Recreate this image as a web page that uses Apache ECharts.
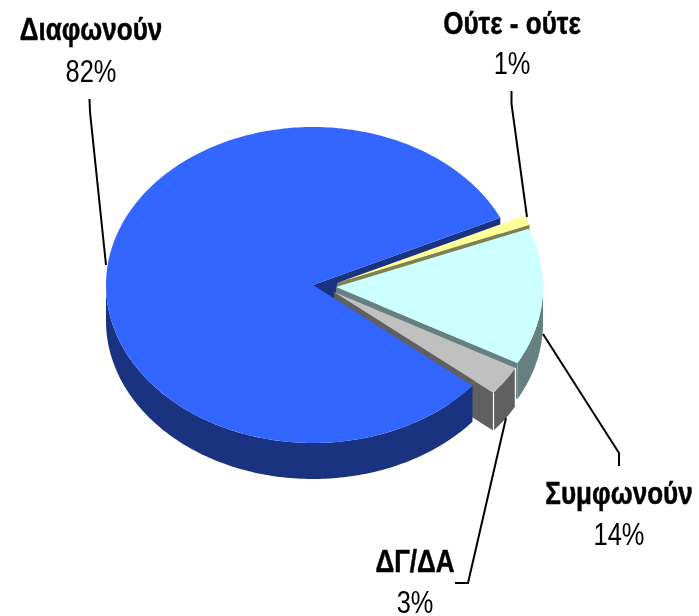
<!DOCTYPE html>
<html><head><meta charset="utf-8">
<style>html,body{margin:0;padding:0;background:#fff}#c{width:699px;height:616px}</style>
<script src="https://cdn.jsdelivr.net/npm/echarts@6/dist/echarts.min.js"></script>
</head><body><div id="c"></div>
<script>
// ---- data ----
const categories = ['Διαφωνούν', 'Ούτε - ούτε', 'Συμφωνούν', 'ΔΓ/ΔΑ'];
const values = [82, 1, 14, 3];
// ---- styles ----
const topColors = ['#3366ff', '#ffff99', '#ccffff', '#c0c0c0'];
const sideColors = ['#1a3380', '#808050', '#668080', '#606060'];
// ---- layout ----
const RX = 207, RY = 158, START_DEG = 39.6;
const depths = [36, 36, 36, 38];
const centres = [[313, 285], [337, 283], [336, 287], [334, 292]];
const labelPos = [[91, 31, 73], [512, 25, 65], [619, 495, 536], [415, 563, 604]];
const leaders = [
  [[89.5, 99], [90, 112], [106, 265]],
  [[511.5, 91], [511.5, 104], [527, 217]],
  [[619, 466], [619, 453], [543, 334]],
  [[455, 583], [468, 583], [506, 418]]
];
const FONT = '"Liberation Sans",sans-serif';

const total = values.reduce((a, b) => a + b, 0);
const spans = [];
{ let a = START_DEG;
  values.forEach(v => { const b = a + v / total * 360; spans.push([a, b]); a = b; }); }

function pt(i, deg, dz) {
  const r = deg * Math.PI / 180, c = centres[i];
  return [c[0] + RX * Math.cos(r), c[1] + RY * Math.sin(r) + (dz || 0)];
}
function arc(i, a, b, dz) {
  const out = [], n = Math.max(2, Math.ceil(Math.abs(b - a)));
  for (let k = 0; k <= n; k++) out.push(pt(i, a + (b - a) * k / n, dz));
  return out;
}
function facePolygon(i) {           // radial cut face at the slice's closing edge
  const a = spans[i][1], c = centres[i], d = depths[i];
  return [c, pt(i, a), pt(i, a, d), [c[0], c[1] + d]];
}
function rimPolygon(i) {            // visible (front) outer wall
  let a = spans[i][0], b = spans[i][1];
  if (a > 180) { a -= 360; b -= 360; }
  if (a > 180) { a -= 360; b -= 360; }
  const a2 = Math.max(a, 0), b2 = Math.min(b, 180);
  if (b2 <= a2) return null;
  return arc(i, a2, b2, 0).concat(arc(i, b2, a2, depths[i]));
}
function topPolygon(i) {
  return [centres[i]].concat(arc(i, spans[i][0], spans[i][1], 0));
}

// painter's order: [slice, part]  part: 0 cut face, 1 rim, 2 top, 3 white edge at closing corner, 4 white edge at opening corner
const PAINT = [[0,0],[1,0],[2,0],[3,0],[0,1],[0,2],[1,2],[2,1],[2,2],[3,1],[3,2],[3,3],[3,4]];

function renderFace(params, api) {
  const i = api.value(0), part = api.value(1);
  if (part === 3 || part === 4) {
    const a = part === 3 ? spans[i][1] : spans[i][0];
    const p = pt(i, a), q = pt(i, a, depths[i]);
    return { type: 'line', shape: { x1: p[0], y1: p[1], x2: q[0], y2: q[1] },
             style: { stroke: '#ffffff', lineWidth: 1.2 } };
  }
  const poly = part === 0 ? facePolygon(i) : part === 1 ? rimPolygon(i) : topPolygon(i);
  if (!poly) return null;
  return { type: 'polygon', shape: { points: poly },
           style: { fill: part === 2 ? topColors[i] : sideColors[i], stroke: null } };
}
function textEl(text, x, y, bold) {
  return { type: 'text', x: x, y: y, scaleX: bold ? 0.84 : 0.82,
    style: { text: text, x: 0, y: 0, align: 'center', verticalAlign: 'middle',
      font: (bold ? 'bold' : 'normal') + ' 31px ' + FONT, fill: '#000',
      stroke: bold ? '#000' : null, lineWidth: bold ? 0.5 : 0 } };
}
function renderLabel(params, api) {
  const i = api.value(0), p = labelPos[i];
  return { type: 'group', children: [
    { type: 'polyline', shape: { points: leaders[i] }, style: { stroke: '#000', lineWidth: 2, fill: null } },
    textEl(categories[i], p[0], p[1], true),
    textEl(values[i] + '%', p[0], p[2], false)
  ]};
}
const chart = echarts.init(document.getElementById('c'), null, { renderer: 'canvas' });
chart.setOption({
  animation: false,
  backgroundColor: '#ffffff',
  series: [
    { type: 'custom', coordinateSystem: 'none', renderItem: renderFace, silent: true, data: PAINT },
    { type: 'custom', coordinateSystem: 'none', renderItem: renderLabel, silent: true,
      data: values.map((v, i) => ({ name: categories[i], value: [i, v] })) }
  ]
});
</script></body></html>
